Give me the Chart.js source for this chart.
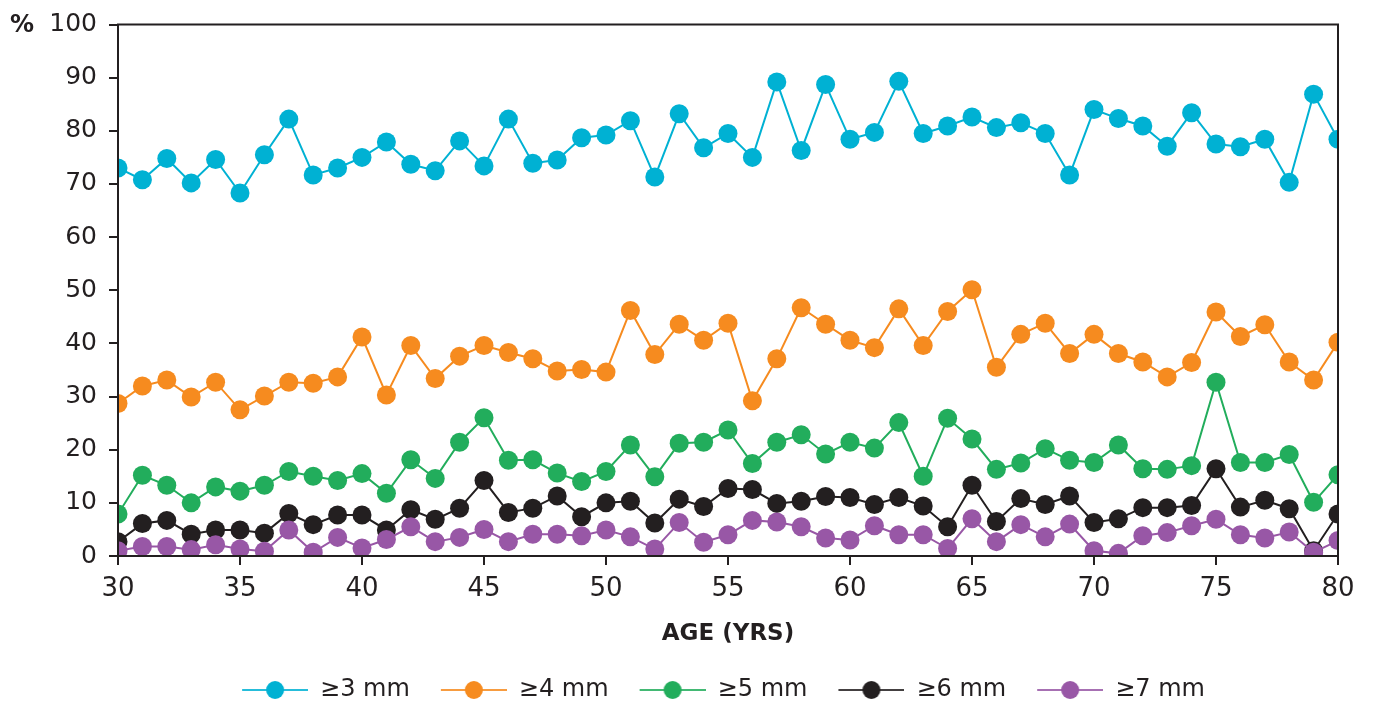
<!DOCTYPE html>
<html>
<head>
<meta charset="utf-8">
<script src="https://cdn.jsdelivr.net/npm/chart.js@4/dist/chart.umd.min.js"></script>
<style>
  html, body { margin: 0; padding: 0; background: #fff; }
  #wrap { width: 1373px; height: 704px; }
</style>
</head>
<body>
<div id="wrap"><canvas id="ageChart" width="1373" height="704"></canvas></div>
<script>
// Age in years (x axis)
const ages = [30, 31, 32, 33, 34, 35, 36, 37, 38, 39, 40, 41, 42, 43, 44, 45, 46, 47, 48, 49, 50,
              51, 52, 53, 54, 55, 56, 57, 58, 59, 60, 61, 62, 63, 64, 65, 66, 67, 68, 69, 70,
              71, 72, 73, 74, 75, 76, 77, 78, 79, 80];

const seriesLabels = ['≥3 mm', '≥4 mm', '≥5 mm', '≥6 mm', '≥7 mm'];
const seriesColors = ['#00b1d3', '#f68b1f', '#22ad5c', '#231f20', '#9857a6'];

// % of subjects
const mm3 = [73.0, 70.8, 74.8, 70.2, 74.6, 68.3, 75.5, 82.2, 71.7, 73.0, 75.0, 77.9, 73.7, 72.5, 78.1, 73.4, 82.2,
             73.9, 74.5, 78.7, 79.2, 81.9, 71.3, 83.2, 76.8, 79.5, 75.0, 89.2, 76.3, 88.7, 78.4, 79.7, 89.3,
             79.5, 80.9, 82.6, 80.6, 81.5, 79.5, 71.7, 84.0, 82.3, 80.9, 77.1, 83.4, 77.5, 77.0, 78.4, 70.3, 86.9, 78.4];
const mm4 = [28.7, 32.0, 33.1, 29.9, 32.7, 27.5, 30.1, 32.7, 32.5, 33.7, 41.2, 30.3, 39.6, 33.4, 37.6, 39.6, 38.3,
             37.1, 34.8, 35.1, 34.6, 46.2, 37.9, 43.6, 40.6, 43.8, 29.2, 37.1, 46.7, 43.6, 40.6, 39.2, 46.5,
             39.6, 46.0, 50.1, 35.5, 41.7, 43.8, 38.1, 41.7, 38.1, 36.5, 33.7, 36.4, 45.9, 41.3, 43.5, 36.5, 33.1, 40.2];
const mm5 = [7.9, 15.2, 13.3, 10.0, 13.0, 12.2, 13.3, 15.9, 15.0, 14.2, 15.5, 11.8, 18.1, 14.6, 21.4, 26.0, 18.0,
             18.1, 15.6, 14.0, 15.9, 20.9, 14.9, 21.2, 21.4, 23.7, 17.4, 21.4, 22.8, 19.2, 21.4, 20.3, 25.1,
             15.0, 25.9, 22.0, 16.3, 17.5, 20.2, 18.0, 17.6, 20.9, 16.4, 16.3, 17.0, 32.7, 17.6, 17.6, 19.1, 10.1, 15.3];
const mm6 = [2.7, 6.1, 6.7, 4.1, 4.9, 4.9, 4.3, 8.0, 5.9, 7.7, 7.7, 4.9, 8.7, 6.9, 9.0, 14.2, 8.2,
             9.0, 11.3, 7.4, 10.0, 10.3, 6.2, 10.7, 9.3, 12.7, 12.5, 9.9, 10.3, 11.2, 11.0, 9.7, 11.0,
             9.4, 5.5, 13.3, 6.5, 10.8, 9.7, 11.3, 6.3, 7.0, 9.1, 9.1, 9.5, 16.4, 9.2, 10.5, 8.9, 1.0, 7.9];
const mm7 = [1.0, 1.8, 1.8, 1.2, 2.1, 1.3, 0.9, 4.9, 0.7, 3.5, 1.5, 3.1, 5.5, 2.7, 3.5, 5.0, 2.7,
             4.1, 4.1, 3.8, 4.9, 3.6, 1.3, 6.3, 2.6, 4.0, 6.7, 6.4, 5.5, 3.4, 3.0, 5.7, 4.0,
             4.0, 1.4, 7.0, 2.7, 5.9, 3.6, 6.0, 1.0, 0.5, 3.8, 4.4, 5.7, 6.9, 4.0, 3.4, 4.5, 0.7, 2.9];

const seriesValues = [mm3, mm4, mm5, mm6, mm7];
const yTicks = [0, 10, 20, 30, 40, 50, 60, 70, 80, 90, 100];
const xTicks = [30, 35, 40, 45, 50, 55, 60, 65, 70, 75, 80];

const ink = '#231f20';
const font = 'DejaVu Sans';

// legend swatch: line with a dot, with some empty room on its left
const swatchGap = 25;
function legendSwatch(color) {
    const c = document.createElement('canvas');
    c.width = 66 + swatchGap;
    c.height = 20;
    const g = c.getContext('2d');
    g.strokeStyle = color;
    g.globalAlpha = 0.85;
    g.lineWidth = 2;
    g.beginPath();
    g.moveTo(swatchGap, 10);
    g.lineTo(swatchGap + 66, 10);
    g.stroke();
    g.globalAlpha = 1;
    g.fillStyle = color;
    g.beginPath();
    g.arc(swatchGap + 33, 10, 9, 0, Math.PI * 2);
    g.fill();
    return c;
}
const swatches = seriesColors.map(legendSwatch);

// box round the plot plus the "%" unit label
const framePlugin = {
    id: 'frame',
    afterLayout(chart) {
        // the legend sits a little right of centre in the original
        chart.legend.left += 42;
        chart.legend.right += 42;
    },
    afterDraw(chart) {
        const { ctx, chartArea: a } = chart;
        ctx.save();
        ctx.strokeStyle = ink;
        ctx.lineWidth = 2;
        ctx.strokeRect(a.left, a.top, a.right - a.left, a.bottom - a.top);
        ctx.fillStyle = ink;
        ctx.font = 'bold 24px "' + font + '"';
        ctx.textAlign = 'left';
        ctx.textBaseline = 'middle';
        ctx.fillText('%', 10, a.top + 1);
        ctx.restore();
    }
};

const datasets = seriesLabels.map((label, i) => ({
    label: label,
    data: ages.map((a, j) => ({ x: a, y: seriesValues[i][j] })),
    borderColor: seriesColors[i],
    backgroundColor: seriesColors[i],
    pointBackgroundColor: seriesColors[i],
    pointBorderWidth: 0,
    pointRadius: 9.5,
    borderWidth: 2,
    tension: 0,
    order: seriesLabels.length - i
}));

new Chart(document.getElementById('ageChart'), {
    type: 'line',
    data: { datasets: datasets },
    plugins: [framePlugin],
    options: {
        responsive: false,
        animation: false,
        layout: { padding: { top: 22, right: 35, left: 0, bottom: -8 } },
        plugins: {
            tooltip: { enabled: false },
            legend: {
                position: 'bottom',
                labels: {
                    usePointStyle: true,
                    pointStyleWidth: 66 + swatchGap,
                    padding: 6,
                    color: ink,
                    font: { family: font, size: 24 },
                    sort: (a, b) => a.datasetIndex - b.datasetIndex,
                    generateLabels(chart) {
                        const items = Chart.defaults.plugins.legend.labels.generateLabels(chart);
                        items.forEach(it => { it.pointStyle = swatches[it.datasetIndex]; });
                        return items;
                    }
                }
            }
        },
        scales: {
            x: {
                type: 'linear',
                min: 30,
                max: 80,
                afterBuildTicks: s => { s.ticks = xTicks.map(v => ({ value: v })); },
                afterFit: s => { s.height = 116; },
                grid: { drawOnChartArea: false, tickLength: 9, color: ink, lineWidth: 2 },
                border: { color: ink, width: 2 },
                ticks: { color: ink, font: { family: font, size: 26 }, padding: 9, maxRotation: 0 },
                title: {
                    display: true,
                    text: 'AGE (YRS)',
                    color: ink,
                    font: { family: font, size: 23, weight: 'bold' },
                    padding: { top: 15, bottom: 24 }
                }
            },
            y: {
                min: 0,
                max: 100,
                afterBuildTicks: s => { s.ticks = yTicks.map(v => ({ value: v })); },
                afterFit: s => { s.width = 118; },
                grid: { drawOnChartArea: false, tickLength: 9, color: ink, lineWidth: 2 },
                border: { color: ink, width: 2 },
                ticks: { color: ink, font: { family: font, size: 25, lineHeight: 1 }, padding: 12 }
            }
        }
    }
});
</script>
</body>
</html>
